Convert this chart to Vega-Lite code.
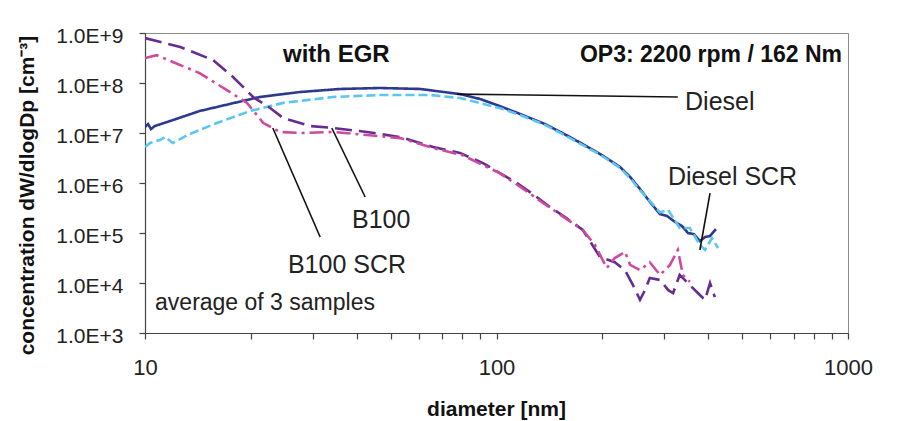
{
  "$schema": "https://vega.github.io/schema/vega-lite/v6.json",
  "width": 703,
  "height": 300,
  "autosize": {"type": "none"},
  "padding": {"left": 145, "top": 33, "right": 73, "bottom": 88},
  "background": "white",
  "config": {
    "font": "Liberation Sans",
    "view": {"stroke": "#8a8a8a", "strokeWidth": 1},
    "axis": {"grid": false, "domainColor": "#444", "tickColor": "#444", "domainWidth": 1.2, "tickWidth": 1.2, "labelColor": "#222", "titleColor": "#111", "labelFont": "Liberation Sans", "titleFont": "Liberation Sans"}
  },
  "datasets": {
    "curves": [
      {"series": "Diesel", "d": 10, "c": 1.32e7}, {"series": "Diesel", "d": 10.2, "c": 1.51e7}, {"series": "Diesel", "d": 10.4, "c": 1.2e7}, {"series": "Diesel", "d": 10.67, "c": 1.38e7}, {"series": "Diesel", "d": 11.8, "c": 1.74e7}, {"series": "Diesel", "d": 14.3, "c": 2.75e7}, {"series": "Diesel", "d": 17.4, "c": 3.8e7}, {"series": "Diesel", "d": 21.2, "c": 5.25e7}, {"series": "Diesel", "d": 27.6, "c": 6.6e7}, {"series": "Diesel", "d": 35.9, "c": 7.6e7}, {"series": "Diesel", "d": 46.6, "c": 7.94e7}, {"series": "Diesel", "d": 60.6, "c": 7.6e7}, {"series": "Diesel", "d": 78.7, "c": 6.0e7}, {"series": "Diesel", "d": 89.7, "c": 4.8e7}, {"series": "Diesel", "d": 102, "c": 3.47e7}, {"series": "Diesel", "d": 116.7, "c": 2.4e7}, {"series": "Diesel", "d": 137.4, "c": 1.51e7}, {"series": "Diesel", "d": 161.9, "c": 8.3e6}, {"series": "Diesel", "d": 190.6, "c": 4.37e6}, {"series": "Diesel", "d": 203.5, "c": 3.3e6}, {"series": "Diesel", "d": 224.6, "c": 2.09e6}, {"series": "Diesel", "d": 240, "c": 1.32e6}, {"series": "Diesel", "d": 256, "c": 7.6e5}, {"series": "Diesel", "d": 273.3, "c": 4.17e5}, {"series": "Diesel", "d": 291.6, "c": 2.4e5}, {"series": "Diesel", "d": 305.5, "c": 2.19e5}, {"series": "Diesel", "d": 322, "c": 1.66e5}, {"series": "Diesel", "d": 337, "c": 1.38e5}, {"series": "Diesel", "d": 350.5, "c": 1.0e5}, {"series": "Diesel", "d": 364.6, "c": 9.5e4}, {"series": "Diesel", "d": 379, "c": 6.9e4}, {"series": "Diesel", "d": 392, "c": 8.3e4}, {"series": "Diesel", "d": 405, "c": 8.7e4}, {"series": "Diesel", "d": 421, "c": 1.2e5},
      {"series": "Diesel SCR", "d": 10, "c": 5.25e6}, {"series": "Diesel SCR", "d": 10.33, "c": 6.3e6}, {"series": "Diesel SCR", "d": 11.03, "c": 7.24e6}, {"series": "Diesel SCR", "d": 11.4, "c": 8.3e6}, {"series": "Diesel SCR", "d": 12.0, "c": 6.3e6}, {"series": "Diesel SCR", "d": 13.2, "c": 9.1e6}, {"series": "Diesel SCR", "d": 16.0, "c": 1.58e7}, {"series": "Diesel SCR", "d": 19.9, "c": 2.75e7}, {"series": "Diesel SCR", "d": 24.7, "c": 4.0e7}, {"series": "Diesel SCR", "d": 34.3, "c": 5.25e7}, {"series": "Diesel SCR", "d": 46.6, "c": 5.75e7}, {"series": "Diesel SCR", "d": 64.7, "c": 5.75e7}, {"series": "Diesel SCR", "d": 78.7, "c": 5.0e7}, {"series": "Diesel SCR", "d": 102, "c": 3.16e7}, {"series": "Diesel SCR", "d": 116.7, "c": 2.29e7}, {"series": "Diesel SCR", "d": 137.4, "c": 1.45e7}, {"series": "Diesel SCR", "d": 161.9, "c": 7.9e6}, {"series": "Diesel SCR", "d": 190.6, "c": 4.2e6}, {"series": "Diesel SCR", "d": 203.5, "c": 3.2e6}, {"series": "Diesel SCR", "d": 224.6, "c": 2.0e6}, {"series": "Diesel SCR", "d": 240, "c": 1.25e6}, {"series": "Diesel SCR", "d": 256, "c": 7.2e5}, {"series": "Diesel SCR", "d": 291.6, "c": 2.6e5}, {"series": "Diesel SCR", "d": 307.8, "c": 2.9e5}, {"series": "Diesel SCR", "d": 332, "c": 1.26e5}, {"series": "Diesel SCR", "d": 355, "c": 1.26e5}, {"series": "Diesel SCR", "d": 379, "c": 5.75e4}, {"series": "Diesel SCR", "d": 392, "c": 4.57e4}, {"series": "Diesel SCR", "d": 410, "c": 7.9e4}, {"series": "Diesel SCR", "d": 427, "c": 5.0e4},
      {"series": "B100", "d": 10, "c": 7.9e8}, {"series": "B100", "d": 12.6, "c": 5.25e8}, {"series": "B100", "d": 15.6, "c": 2.88e8}, {"series": "B100", "d": 17.8, "c": 1.32e8}, {"series": "B100", "d": 20.3, "c": 5.25e7}, {"series": "B100", "d": 22.7, "c": 3.16e7}, {"series": "B100", "d": 24.7, "c": 2.0e7}, {"series": "B100", "d": 29.5, "c": 1.38e7}, {"series": "B100", "d": 34.3, "c": 1.26e7}, {"series": "B100", "d": 42.8, "c": 1.05e7}, {"series": "B100", "d": 53.2, "c": 8.3e6}, {"series": "B100", "d": 66.0, "c": 5.25e6}, {"series": "B100", "d": 78.7, "c": 4.0e6}, {"series": "B100", "d": 91.5, "c": 2.5e6}, {"series": "B100", "d": 114.4, "c": 1.0e6}, {"series": "B100", "d": 128, "c": 5.75e5}, {"series": "B100", "d": 142, "c": 3.3e5}, {"series": "B100", "d": 158, "c": 2.0e5}, {"series": "B100", "d": 176, "c": 1.15e5}, {"series": "B100", "d": 197, "c": 3.3e4}, {"series": "B100", "d": 217, "c": 2.6e4}, {"series": "B100", "d": 232, "c": 1.8e4}, {"series": "B100", "d": 244.5, "c": 9.1e3}, {"series": "B100", "d": 256, "c": 4.6e3}, {"series": "B100", "d": 264.5, "c": 7.2e3}, {"series": "B100", "d": 273, "c": 1.26e4}, {"series": "B100", "d": 292, "c": 1.15e4}, {"series": "B100", "d": 308, "c": 7.2e3}, {"series": "B100", "d": 318, "c": 6.3e3}, {"series": "B100", "d": 332, "c": 1.45e4}, {"series": "B100", "d": 355, "c": 9.1e3}, {"series": "B100", "d": 379, "c": 5.75e3}, {"series": "B100", "d": 392, "c": 4.6e3}, {"series": "B100", "d": 405, "c": 1.0e4}, {"series": "B100", "d": 418, "c": 5.2e3},
      {"series": "B100 SCR", "d": 10, "c": 3.16e8}, {"series": "B100 SCR", "d": 10.8, "c": 3.6e8}, {"series": "B100 SCR", "d": 12.0, "c": 2.63e8}, {"series": "B100 SCR", "d": 14.3, "c": 1.58e8}, {"series": "B100 SCR", "d": 17.1, "c": 7.2e7}, {"series": "B100 SCR", "d": 19.5, "c": 4.0e7}, {"series": "B100 SCR", "d": 20.8, "c": 2.3e7}, {"series": "B100 SCR", "d": 21.7, "c": 1.58e7}, {"series": "B100 SCR", "d": 23.1, "c": 1.26e7}, {"series": "B100 SCR", "d": 24.2, "c": 1.05e7}, {"series": "B100 SCR", "d": 27.6, "c": 1.0e7}, {"series": "B100 SCR", "d": 34.3, "c": 1.05e7}, {"series": "B100 SCR", "d": 42.8, "c": 9.1e6}, {"series": "B100 SCR", "d": 53.2, "c": 7.9e6}, {"series": "B100 SCR", "d": 66.0, "c": 5.0e6}, {"series": "B100 SCR", "d": 80, "c": 3.6e6}, {"series": "B100 SCR", "d": 102, "c": 1.58e6}, {"series": "B100 SCR", "d": 118, "c": 8.0e5}, {"series": "B100 SCR", "d": 135.6, "c": 4.0e5}, {"series": "B100 SCR", "d": 155, "c": 2.1e5}, {"series": "B100 SCR", "d": 176, "c": 1.15e5}, {"series": "B100 SCR", "d": 190.6, "c": 5.75e4}, {"series": "B100 SCR", "d": 206, "c": 2.0e4}, {"series": "B100 SCR", "d": 217, "c": 3.16e4}, {"series": "B100 SCR", "d": 232, "c": 4.2e4}, {"series": "B100 SCR", "d": 240, "c": 2.3e4}, {"series": "B100 SCR", "d": 256, "c": 1.8e4}, {"series": "B100 SCR", "d": 273, "c": 2.6e4}, {"series": "B100 SCR", "d": 292, "c": 1.45e4}, {"series": "B100 SCR", "d": 311.6, "c": 2.3e4}, {"series": "B100 SCR", "d": 328, "c": 4.6e4}, {"series": "B100 SCR", "d": 339, "c": 1.45e4}, {"series": "B100 SCR", "d": 355, "c": 1.05e4}
    ],
    "leaders": [
      {"d": 77.2, "c": 6.0e7, "d2": 328, "c2": 5.25e7},
      {"d": 405, "c": 6.3e5, "d2": 379, "c2": 4.57e4},
      {"d": 34.0, "c": 1.26e7, "d2": 42.3, "c2": 5.25e5},
      {"d": 23.1, "c": 1.26e7, "d2": 31.5, "c2": 8.3e4}
    ],
    "labels": [
      {"d": 343.9, "c": 2.88e7, "label": "Diesel"},
      {"d": 307.5, "c": 9.1e5, "label": "Diesel SCR"},
      {"d": 38.8, "c": 1.26e5, "label": "B100"},
      {"d": 25.5, "c": 1.58e4, "label": "B100 SCR"}
    ],
    "note": [{"d": 10.68, "c": 2884, "label": "average of 3 samples"}],
    "egr": [{"d": 24.7, "c": 2.63e8, "label": "with EGR"}],
    "op": [{"d": 961.6, "c": 2.63e8, "label": "OP3: 2200 rpm / 162 Nm"}]
  },
  "layer": [
    {
      "data": {"name": "curves"},
      "mark": {"type": "line", "strokeWidth": 2.6, "clip": true},
      "encoding": {
        "x": {"field": "d", "type": "quantitative",
          "scale": {"type": "log", "domain": [10, 1000], "nice": false},
          "axis": {"title": "diameter [nm]", "titleFontSize": 21, "titleFontWeight": "bold", "titleBaseline": "alphabetic", "titleY": 82, "titleX": 351,
            "values": [10, 20, 30, 40, 50, 60, 70, 80, 90, 100, 200, 300, 400, 500, 600, 700, 800, 900, 1000],
            "format": "d", "labelExpr": "(datum.value == 10 || datum.value == 100 || datum.value == 1000) ? datum.label : ''",
            "labelOverlap": false, "labelFontSize": 22, "labelPadding": 18, "tickSize": 6, "labelFlush": false}},
        "y": {"field": "c", "type": "quantitative",
          "scale": {"type": "log", "domain": [1000, 1000000000], "nice": false},
          "axis": {"title": "concentration dW/dlogDp [cm⁻³]", "titleFontSize": 21, "titleFontWeight": "bold", "titleBaseline": "alphabetic", "titleX": -112, "titleY": 162, "titleAngle": 270, "titleAlign": "center",
            "values": [1000, 10000, 100000, 1000000, 10000000, 100000000, 1000000000],
            "labelExpr": "'1.0E+' + round(log(datum.value) / LN10)",
            "labelOverlap": false, "labelFontSize": 21, "labelBaseline": "alphabetic", "labelOffset": 9, "labelPadding": 16, "tickSize": 6, "labelFlush": false}},
        "color": {"field": "series", "type": "nominal", "legend": null,
          "scale": {"domain": ["Diesel", "Diesel SCR", "B100", "B100 SCR"], "range": ["#2B3990", "#5BC6F0", "#662D91", "#CF4A9E"]}},
        "strokeDash": {"field": "series", "type": "nominal", "legend": null,
          "scale": {"domain": ["Diesel", "Diesel SCR", "B100", "B100 SCR"], "range": [[1, 0], [9, 4], [17, 7], [14, 5, 3, 5]]}}
      }
    },
    {
      "data": {"name": "leaders"},
      "mark": {"type": "rule", "color": "#111", "strokeWidth": 1.6},
      "encoding": {
        "x": {"field": "d", "type": "quantitative"},
        "y": {"field": "c", "type": "quantitative"},
        "x2": {"field": "d2"},
        "y2": {"field": "c2"}
      }
    },
    {
      "data": {"name": "labels"},
      "mark": {"type": "text", "align": "left", "baseline": "alphabetic", "fontSize": 25, "color": "#222", "font": "Liberation Sans"},
      "encoding": {
        "x": {"field": "d", "type": "quantitative"},
        "y": {"field": "c", "type": "quantitative"},
        "text": {"field": "label"}
      }
    },
    {
      "data": {"name": "note"},
      "mark": {"type": "text", "align": "left", "baseline": "alphabetic", "fontSize": 23, "color": "#222", "font": "Liberation Sans"},
      "encoding": {
        "x": {"field": "d", "type": "quantitative"},
        "y": {"field": "c", "type": "quantitative"},
        "text": {"field": "label"}
      }
    },
    {
      "data": {"name": "egr"},
      "mark": {"type": "text", "align": "left", "baseline": "alphabetic", "fontSize": 24, "fontWeight": "bold", "color": "#111", "font": "Liberation Sans"},
      "encoding": {
        "x": {"field": "d", "type": "quantitative"},
        "y": {"field": "c", "type": "quantitative"},
        "text": {"field": "label"}
      }
    },
    {
      "data": {"name": "op"},
      "mark": {"type": "text", "align": "right", "baseline": "alphabetic", "fontSize": 23, "fontWeight": "bold", "color": "#111", "font": "Liberation Sans"},
      "encoding": {
        "x": {"field": "d", "type": "quantitative"},
        "y": {"field": "c", "type": "quantitative"},
        "text": {"field": "label"}
      }
    }
  ]
}
